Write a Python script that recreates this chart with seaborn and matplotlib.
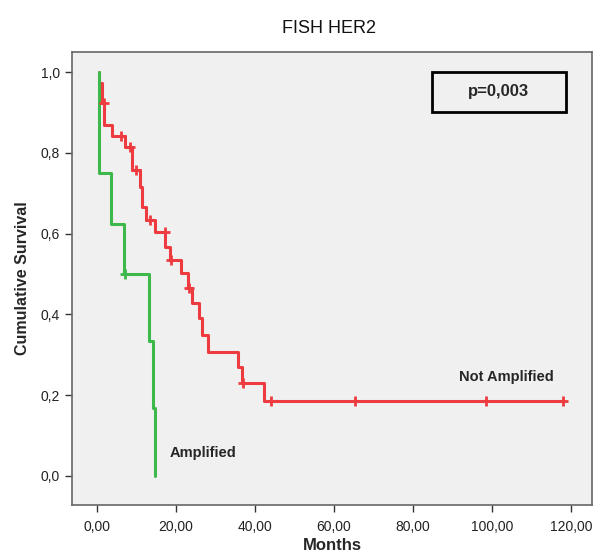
import matplotlib
matplotlib.use("Agg")
import matplotlib.pyplot as plt
import seaborn as sns
import pandas as pd
from matplotlib.patches import Rectangle

# ---- data ----
red_times = [0.5, 0.6, 1.2, 1.9, 3.7, 7.2, 8.8, 9.0, 10.9, 11.3, 12.4, 14.7, 17.2, 18.5,
             21.2, 23.0, 24.0, 25.8, 26.5, 28.1, 35.6, 36.6, 42.3, 117.9]
red_surv = [1.0, 0.974, 0.923, 0.869, 0.842, 0.815, 0.79, 0.757, 0.716, 0.667, 0.634, 0.604,
            0.567, 0.535, 0.502, 0.465, 0.428, 0.39, 0.35, 0.307, 0.27, 0.23, 0.185, 0.185]
red_cens_t = [1.8, 6.1, 8.3, 10.0, 13.4, 17.2, 18.7, 23.3, 36.9, 44.0, 65.3, 98.5, 117.9]
red_cens_s = [0.923, 0.842, 0.815, 0.757, 0.634, 0.604, 0.535, 0.465, 0.23, 0.185, 0.185, 0.185, 0.185]

green_times = [0.5, 0.5, 3.6, 6.8, 13.2, 14.2, 14.6]
green_surv = [1.0, 0.75, 0.625, 0.5, 0.333, 0.167, 0.0]
green_cens_t = [7.0]
green_cens_s = [0.5]

x_ticks = [0, 20, 40, 60, 80, 100, 120]
x_tick_labels = ["0,00", "20,00", "40,00", "60,00", "80,00", "100,00", "120,00"]
y_ticks = [0.0, 0.2, 0.4, 0.6, 0.8, 1.0]
y_tick_labels = ["0,0", "0,2", "0,4", "0,6", "0,8", "1,0"]

RED = "#EE3B3F"
GREEN = "#3CB94A"

sns.set_style("ticks", {"axes.facecolor": "#F0F0F0", "axes.edgecolor": "#555555"})
plt.rcParams["font.family"] = ["Liberation Sans", "DejaVu Sans"]

fig = plt.figure(figsize=(5.93, 5.56), dpi=100)
ax = fig.add_axes([0.1214, 0.0917, 0.877, 0.815])

red_df = pd.DataFrame({"t": red_times, "s": red_surv})
green_df = pd.DataFrame({"t": green_times, "s": green_surv})

sns.lineplot(data=red_df, x="t", y="s", ax=ax, color=RED, lw=2.2,
             drawstyle="steps-post", estimator=None, sort=False, zorder=2)
sns.lineplot(data=green_df, x="t", y="s", ax=ax, color=GREEN, lw=2.2,
             drawstyle="steps-post", estimator=None, sort=False, zorder=3)

sns.scatterplot(x=red_cens_t, y=red_cens_s, ax=ax, marker="+", s=45,
                color=RED, linewidth=2, zorder=5)
sns.scatterplot(x=green_cens_t, y=green_cens_s, ax=ax, marker="+", s=45,
                color=GREEN, linewidth=2, zorder=5)

ax.set_xlim(-6.3, 125.3)
ax.set_ylim(-0.072, 1.05)
ax.set_xticks(x_ticks)
ax.set_xticklabels(x_tick_labels)
ax.set_yticks(y_ticks)
ax.set_yticklabels(y_tick_labels)
ax.tick_params(axis="both", labelsize=10, length=5, width=1, color="#333333",
               labelcolor="#222222")
ax.tick_params(axis="x", pad=6)

for sp in ax.spines.values():
    sp.set_visible(True)
    sp.set_color("#666666")
    sp.set_linewidth(1.2)

ax.set_xlabel("Months", fontsize=12, fontweight="bold", labelpad=3)
ax.set_ylabel("Cumulative Survival", fontsize=11.5, fontweight="bold", labelpad=8)
fig.text(0.555, 0.949, "FISH HER2", ha="center", va="center", fontsize=13, color="#111111")

ax.text(115.7, 0.245, "Not Amplified", ha="right", va="center",
        fontsize=10.5, fontweight="bold")
ax.text(18.3, 0.057, "Amplified", ha="left", va="center",
        fontsize=10.5, fontweight="bold")

ax.add_patch(Rectangle((84.8, 0.901), 33.9, 0.099, fill=False, edgecolor="black",
                       linewidth=2, zorder=6))
ax.text(101.75, 0.951, "p=0,003", ha="center", va="center", fontsize=12,
        fontweight="bold", zorder=7)

fig.savefig("out.png", dpi=100, facecolor="white")
